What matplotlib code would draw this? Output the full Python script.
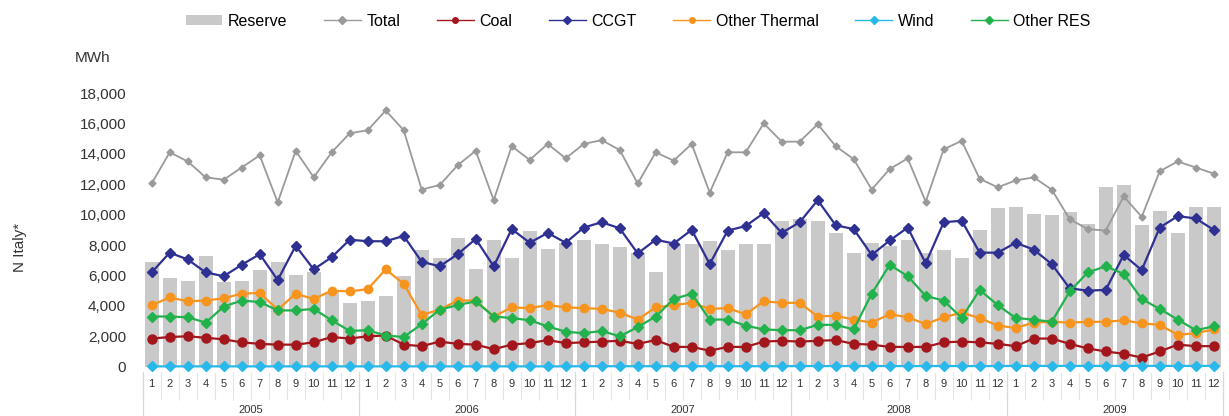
import numpy as np
import matplotlib
matplotlib.use("Agg")
from matplotlib import pyplot as plt
from matplotlib.patches import Patch
from matplotlib.lines import Line2D

plt.rcParams['font.family'] = ['Liberation Sans', 'DejaVu Sans']

years = ["2005", "2006", "2007", "2008", "2009"]
months = [str(m) for m in range(1, 13)]

reserve = [6900, 5800, 5650, 7250, 5550, 5650, 6350, 6900, 6050, 6250, 4900, 4200,
           4350, 4650, 5950, 7700, 7150, 8450, 6450, 8300, 7150, 8900, 7750, 8150,
           8350, 8100, 7850, 7450, 6250, 8100, 8100, 8250, 7700, 8100, 8100, 9600,
           9700, 9600, 8800, 7450, 8150, 7950, 8300, 7500, 7700, 7150, 9000, 10450,
           10500, 10050, 10000, 10200, 9400, 11850, 11950, 9350, 10250, 8800, 10500, 10500]

total = [12050, 14100, 13500, 12450, 12300, 13100, 13900, 10800, 14200, 12450, 14100, 15350,
         15550, 16850, 15550, 11650, 11950, 13250, 14200, 10950, 14500, 13600, 14650, 13700,
         14650, 14900, 14250, 12050, 14100, 13550, 14650, 11450, 14100, 14100, 16000, 14800,
         14800, 15950, 14500, 13650, 11650, 13000, 13700, 10850, 14300, 14850, 12350, 11800,
         12250, 12450, 11650, 9700, 9050, 8950, 11200, 9850, 12850, 13500, 13100, 12700]

coal = [1850, 1950, 2000, 1900, 1800, 1600, 1500, 1450, 1450, 1600, 1950, 1850,
        2000, 2050, 1450, 1350, 1650, 1500, 1450, 1150, 1450, 1550, 1750, 1550,
        1600, 1650, 1700, 1500, 1750, 1300, 1300, 1050, 1300, 1300, 1650, 1700,
        1650, 1700, 1750, 1500, 1450, 1300, 1300, 1300, 1600, 1650, 1600, 1500,
        1350, 1850, 1850, 1500, 1200, 1000, 850, 600, 1000, 1450, 1350, 1350]

ccgt = [6200, 7500, 7050, 6200, 5950, 6700, 7400, 5700, 7950, 6400, 7200, 8350,
        8250, 8250, 8600, 6900, 6600, 7400, 8400, 6600, 9050, 8150, 8800, 8150,
        9150, 9500, 9100, 7450, 8350, 8100, 9000, 6750, 8950, 9250, 10100, 8800,
        9500, 10950, 9300, 9050, 7350, 8300, 9150, 6800, 9500, 9600, 7500, 7500,
        8150, 7700, 6750, 5150, 5000, 5050, 7350, 6350, 9150, 9900, 9750, 9000]

other_thermal = [4050, 4550, 4300, 4350, 4500, 4800, 4850, 3750, 4800, 4450, 5000, 4950,
                 5100, 6400, 5450, 3400, 3750, 4350, 4350, 3300, 3900, 3850, 4050, 3900,
                 3850, 3800, 3550, 3100, 3900, 4050, 4200, 3800, 3850, 3450, 4300, 4200,
                 4200, 3300, 3350, 3100, 2900, 3450, 3250, 2800, 3250, 3550, 3200, 2700,
                 2550, 2900, 2950, 2900, 2950, 2950, 3050, 2850, 2750, 2100, 2200, 2450]

wind = [20, 20, 20, 20, 20, 20, 20, 20, 20, 20, 20, 20,
        20, 20, 20, 20, 20, 20, 20, 20, 20, 20, 20, 20,
        30, 30, 30, 30, 30, 30, 30, 30, 30, 30, 30, 30,
        40, 40, 40, 40, 40, 40, 40, 40, 40, 40, 40, 40,
        50, 50, 50, 50, 50, 50, 50, 50, 50, 50, 50, 50]

other_res = [3300, 3300, 3250, 2900, 3950, 4350, 4250, 3700, 3700, 3800, 3050, 2350,
             2400, 2050, 1950, 2800, 3750, 4050, 4300, 3300, 3200, 3050, 2650, 2300,
             2200, 2350, 2000, 2600, 3300, 4450, 4800, 3100, 3100, 2700, 2450, 2400,
             2400, 2750, 2750, 2450, 4800, 6700, 5950, 4650, 4350, 3200, 5050, 4050,
             3200, 3100, 2950, 4950, 6200, 6600, 6100, 4450, 3800, 3100, 2400, 2650]

W, H = 1229, 416
fig = plt.figure(figsize=(W / 100, H / 100), dpi=100)
ax = fig.add_axes([142.7 / W, 1 - 372 / H, 1080 / W, (372 - 93) / H])

x = np.arange(len(total))
ax.bar(x, reserve, width=0.78, color="#c9c9c9", zorder=1)

series = [
    (total, "#9a9a9a", "D", 3.5, 1.3, "Total"),
    (coal, "#a3161c", "o", 6.5, 1.6, "Coal"),
    (ccgt, "#2e3192", "D", 5, 1.6, "CCGT"),
    (other_thermal, "#f7941d", "o", 6, 1.6, "Other Thermal"),
    (wind, "#29b8ea", "D", 5, 1.6, "Wind"),
    (other_res, "#22b24c", "D", 5, 1.6, "Other RES"),
]
for vals, col, mk, ms, lw, lab in series:
    ax.plot(x, vals, color=col, marker=mk, markersize=ms, linewidth=lw,
            zorder=3, clip_on=False)

ax.set_xlim(-0.5, 59.5)
ax.set_ylim(-350, 18000)
ax.set_yticks(np.arange(0, 18001, 2000))
ax.set_yticklabels([f"{v:,}" for v in range(0, 18001, 2000)])
ax.tick_params(axis="y", length=0, pad=12, labelsize=11, labelcolor="#333333")

ax.set_xticks(x)
ax.set_xticklabels(months * len(years))
ax.tick_params(axis="x", length=0, pad=5, labelsize=8, labelcolor="#333333")
ax.set_xticks(np.arange(-0.5, 60, 1), minor=True)
ax.tick_params(axis="x", which="minor", length=20, color="#e4e4e4", width=0.8)

for s in ax.spines.values():
    s.set_visible(False)

trans = ax.get_xaxis_transform()
for k in range(len(years) + 1):
    xb = -0.5 + 12 * k
    ax.plot([xb, xb], [0, -0.16], transform=trans, color="#d8d8d8",
            linewidth=0.9, clip_on=False)
for k, yr in enumerate(years):
    ax.text(5.5 + 12 * k, -0.135, yr, transform=trans, ha="center",
            va="center", fontsize=8, color="#333333")

fig.text(75 / W, 1 - 58 / H, "MWh", ha="left", va="center", fontsize=11,
         color="#333333")
fig.text(20 / W, 1 - 247 / H, "N Italy*", rotation=90, ha="center",
         va="center", fontsize=11, color="#333333")

handles = [Patch(facecolor="#c9c9c9", edgecolor="none", label="Reserve")]
for vals, col, mk, ms, lw, lab in series:
    handles.append(Line2D([], [], color=col, marker=mk, markersize=4,
                          linewidth=1.0, label=lab))
fig.legend(handles=handles, loc="center", bbox_to_anchor=(638 / W, 1 - 21 / H),
           ncol=7, frameon=False, fontsize=11.5, handlelength=2.3,
           handleheight=0.6, handletextpad=0.35, columnspacing=2.3)

fig.savefig("out.png", dpi=100)
